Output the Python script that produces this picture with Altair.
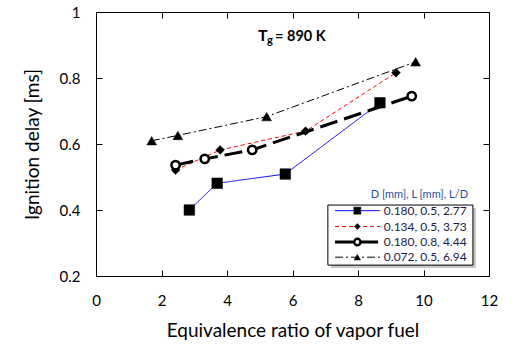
import altair as alt
import pandas as pd

# ---------------- data ----------------
series = ["0.180, 0.5, 2.77", "0.134, 0.5, 3.73", "0.180, 0.8, 4.44", "0.072, 0.5, 6.94"]

phi_a = [2.85, 3.70, 5.78, 8.67]
tau_a = [0.400, 0.481, 0.509, 0.725]
phi_b = [2.43, 3.79, 6.40, 9.16]
tau_b = [0.521, 0.582, 0.639, 0.816]
phi_c = [2.43, 3.32, 4.77, 9.64]
tau_c = [0.536, 0.555, 0.582, 0.745]
phi_d = [1.70, 2.50, 5.21, 9.76]
tau_d = [0.610, 0.626, 0.683, 0.849]

x_ticks = [0, 2, 4, 6, 8, 10, 12]
y_ticks = [0.2, 0.4, 0.6, 0.8, 1.0]

legend_title = "D [mm], L [mm], L/D"
legend_rows_y = [0.398, 0.350, 0.303, 0.257]
legend_line_x = [7.30, 8.67]
legend_marker_x = 7.98
legend_label_x = 8.79
legend_box = {"x": 7.08, "x2": 11.51, "y": 0.415, "y2": 0.233}
legend_title_pos = {"x": 11.36, "y": 0.445}
annot_pos = {"x": 4.95, "y": 0.912}

# ---------------- styles ----------------
line_colors = ["#0000ff", "#ff0000", "#000000", "#000000"]
line_dashes = [[1, 0], [4, 3], [18, 7], [8, 3, 2, 3]]
line_widths = [1, 1, 3, 1]
shapes = ["square", "diamond", "circle", "triangle-up"]
fills = ["#000000", "#000000", "#ffffff", "#000000"]
mk_stroke = [0.5, 0.5, 2.5, 0.5]
mk_sizes = [112, 78, 70, 95]
leg_sizes = [50, 34, 40, 42]

# ---------------- tables ----------------
rows = []
for s, xs, ys in zip(series, [phi_a, phi_b, phi_c, phi_d], [tau_a, tau_b, tau_c, tau_d]):
    for xv, yv in zip(xs, ys):
        rows.append({"series": s, "phi": xv, "tau": yv})
df = pd.DataFrame(rows)

leg_lines = pd.DataFrame(
    [{"series": s, "phi": xv, "tau": yv} for s, yv in zip(series, legend_rows_y) for xv in legend_line_x]
)
leg_pts = pd.DataFrame(
    [{"series": s, "phi": legend_marker_x, "tau": yv, "lx": legend_label_x} for s, yv in zip(series, legend_rows_y)]
)
box_df = pd.DataFrame([legend_box])
shadow_df = pd.DataFrame([{"x": legend_box["x"] + 0.09, "x2": legend_box["x2"] + 0.09,
                           "y": legend_box["y"] - 0.009, "y2": legend_box["y2"] - 0.009}])
title_df = pd.DataFrame([{"phi": legend_title_pos["x"], "tau": legend_title_pos["y"], "t": legend_title}])
ann_df = pd.DataFrame([{"phi": annot_pos["x"], "tau": annot_pos["y"]}])

FONT = "Lato"

xscale = alt.Scale(domain=[0, 12], nice=False, zero=False)
yscale = alt.Scale(domain=[0.2, 1.0], nice=False, zero=False)

axis_common = dict(offset=-6, tickSize=6, domain=False, grid=False, tickColor="black",
                   labelFont=FONT, labelColor="black", labelOverlap=False, labelFlush=False,
                   titleFont=FONT, titleColor="black", titleFontWeight="normal")

x_bottom = alt.Axis(orient="bottom", values=x_ticks, format="d", labelFontSize=15, labelPadding=17,
                    title="Equivalence ratio of vapor fuel", titleFontSize=19, titlePadding=13, **axis_common)
y_left = alt.Axis(orient="left", values=y_ticks, format="~g", labelFontSize=15, labelPadding=16,
                  title="Ignition delay [ms]", titleFontSize=19, titlePadding=17, **axis_common)
x_top = alt.Axis(orient="top", values=x_ticks, labels=False, title=None, **axis_common)
y_right = alt.Axis(orient="right", values=y_ticks, labels=False, title=None, **axis_common)


def xy(xfield="phi", yfield="tau", xaxis=None, yaxis=None):
    return dict(
        x=alt.X(f"{xfield}:Q", scale=xscale, axis=xaxis),
        y=alt.Y(f"{yfield}:Q", scale=yscale, axis=yaxis),
    )


layers = []
# data lines
for i, s in enumerate(series):
    enc = xy(xaxis=x_bottom if i == 0 else None, yaxis=y_left if i == 0 else None)
    layers.append(
        alt.Chart(df).transform_filter(alt.datum.series == s)
        .mark_line(color=line_colors[i], strokeDash=line_dashes[i], strokeWidth=line_widths[i])
        .encode(**enc)
    )
# data markers
for i, s in enumerate(series):
    enc = xy(xaxis=x_top if i == 0 else None, yaxis=y_right if i == 0 else None)
    layers.append(
        alt.Chart(df).transform_filter(alt.datum.series == s)
        .mark_point(shape=shapes[i], fill=fills[i], stroke="black", strokeWidth=mk_stroke[i],
                    size=mk_sizes[i], opacity=1, filled=False)
        .encode(**enc)
    )

# legend box + shadow
layers.append(alt.Chart(shadow_df).mark_rect(color="#9a9a9a", opacity=0.55).encode(
    x=alt.X("x:Q", scale=xscale, axis=None), x2="x2:Q",
    y=alt.Y("y:Q", scale=yscale, axis=None), y2="y2:Q"))
layers.append(alt.Chart(box_df).mark_rect(fill="white", stroke="black", strokeWidth=1).encode(
    x=alt.X("x:Q", scale=xscale, axis=None), x2="x2:Q",
    y=alt.Y("y:Q", scale=yscale, axis=None), y2="y2:Q"))

# legend entries
for i, s in enumerate(series):
    layers.append(
        alt.Chart(leg_lines).transform_filter(alt.datum.series == s)
        .mark_line(color=line_colors[i], strokeDash=line_dashes[i], strokeWidth=line_widths[i])
        .encode(**xy())
    )
    layers.append(
        alt.Chart(leg_pts).transform_filter(alt.datum.series == s)
        .mark_point(shape=shapes[i], fill=fills[i], stroke="black", strokeWidth=mk_stroke[i],
                    size=leg_sizes[i], opacity=1, filled=False)
        .encode(**xy())
    )
layers.append(
    alt.Chart(leg_pts).mark_text(align="left", baseline="middle", font=FONT, fontSize=12, color="#1c1c4a")
    .encode(text="series:N", **xy(xfield="lx"))
)
layers.append(
    alt.Chart(title_df).mark_text(align="right", baseline="middle", font=FONT, fontSize=11, color="#1f4e9a")
    .encode(text="t:N", **xy())
)

# annotation T_g = 890 K
layers.append(alt.Chart(ann_df).mark_text(text="T", align="left", baseline="alphabetic", font=FONT,
                                          fontSize=16, fontWeight="bold", color="black").encode(**xy()))
layers.append(alt.Chart(ann_df).mark_text(text="g", align="left", baseline="alphabetic", font=FONT,
                                          fontSize=11, fontWeight="bold", color="black", dx=9, dy=3).encode(**xy()))
layers.append(alt.Chart(ann_df).mark_text(text="= 890 K", align="left", baseline="alphabetic", font=FONT,
                                          fontSize=14.5, fontWeight="bold", color="black", dx=17).encode(**xy()))

chart = alt.layer(*layers).resolve_axis(x="independent", y="independent").properties(
    width=393, height=264,
    padding={"left": 96, "top": 12, "right": 32, "bottom": 73},
    autosize=alt.AutoSizeParams(type="none"),
    background="white",
).configure_view(stroke="black", strokeWidth=1)

chart.save("out.html", embed_options={"renderer": "svg", "actions": False})
